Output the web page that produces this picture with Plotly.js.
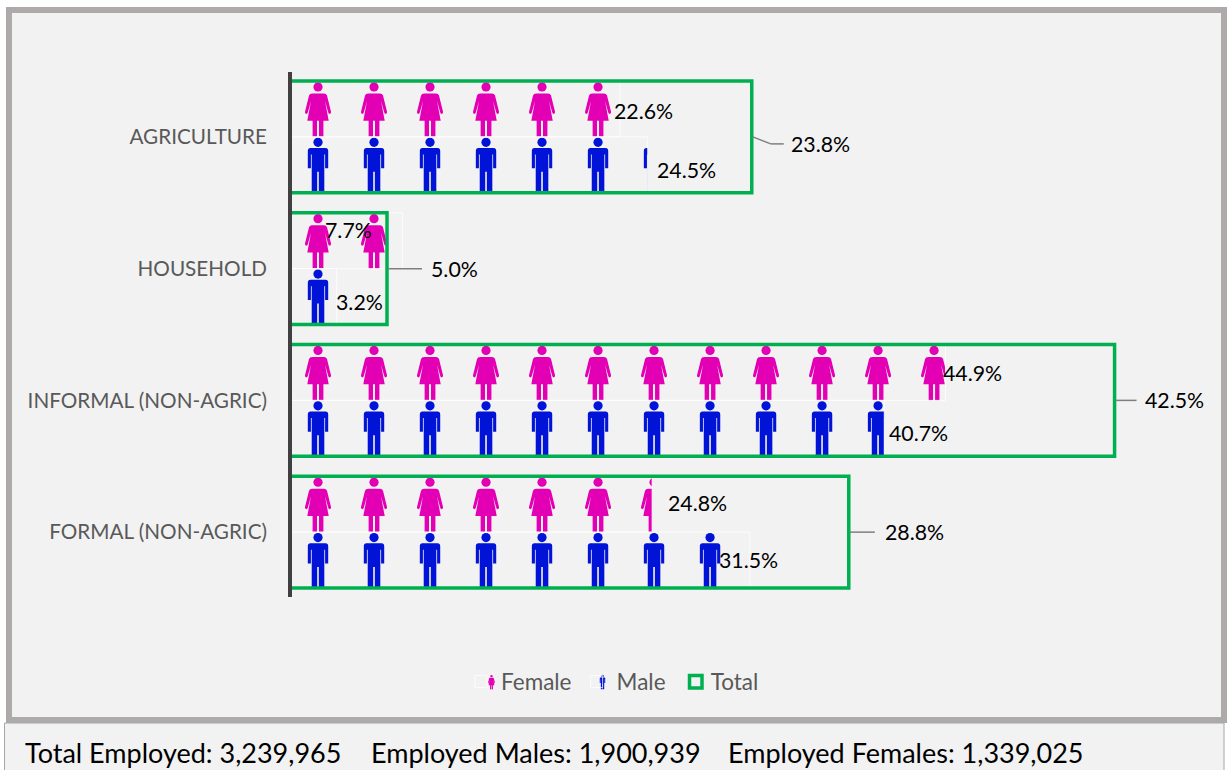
<!DOCTYPE html>
<html>
<head>
<meta charset="utf-8">
<script src="https://cdn.plot.ly/plotly-3.0.1.min.js"></script>
<style>html,body{margin:0;padding:0;background:#fff;overflow:hidden}#chart{width:1229px;height:770px}</style>
</head>
<body>
<div id="chart"></div>
<script>
const categories = ["AGRICULTURE", "HOUSEHOLD", "INFORMAL (NON-AGRIC)", "FORMAL (NON-AGRIC)"];
const femaleValues = [22.6, 7.7, 44.9, 24.8];
const maleValues = [24.5, 3.2, 40.7, 31.5];
const totalValues = [23.8, 5.0, 42.5, 28.8];
const footerTexts = ["Total Employed: 3,239,965", "Employed Males: 1,900,939", "Employed Females: 1,339,025"];

// Percentage represented by one pictogram on the gender axis
const iconUnit = 3.836;

// Layout helpers (page pixels -> paper fractions)
const W = 1229, H = 770, L = 290, R = 1166, T = 71, B = 598;
const FONT = "Lato, Carlito, Calibri, sans-serif";
const px = x => (x - L) / (R - L);
const py = y => (B - y) / (B - T);

const FEMALE = "#e300b4", MALE = "#0013d6", GREEN = "#00b050", LEADER = "#7f7f7f";

const femaleShape =
  '<circle cx="28" cy="6" r="4.6"/>' +
  '<path d="M22 12.5H34Q36.2 12.5 37 14.5L41 31Q41.2 32.6 40 33Q38.8 33.3 38.3 32L35 20L38.7 40H33.4V57H29V40H27V57H22.6V40H17.3L21 20L17.7 32Q17.2 33.3 16 33Q14.8 32.6 15 31L19 14.5Q19.8 12.5 22 12.5Z"/>';
const maleShape =
  '<circle cx="28" cy="5.4" r="4.6"/>' +
  '<path d="M20.5 11H35.5Q38.2 11 38.2 14V31.5H35.1V17.5H34.3V56H28.8V35H27.2V56H21.7V17.5H20.9V31.5H17.8V14Q17.8 11 20.5 11Z"/>';

function iconUri(shape, color, frac) {
  const svg = '<svg xmlns="http://www.w3.org/2000/svg" width="' + (56 * frac) + '" height="56" viewBox="0 0 ' + (56 * frac) +
    ' 56" preserveAspectRatio="none"><g fill="' + color + '">' + shape + '</g></svg>';
  return 'data:image/svg+xml;charset=utf-8,' + encodeURIComponent(svg);
}

// One pictogram row per bar, each icon placed on the axes from the data value
function rowImages(values, shape, color, topOffset) {
  const out = [];
  values.forEach((v, i) => {
    const n = v / iconUnit;
    for (let k = 0; k < Math.ceil(n); k++) {
      const frac = Math.min(1, n - k);
      if (frac < 0.02) continue;
      out.push({
        source: iconUri(shape, color, frac), xref: "x", yref: "y",
        x: k * iconUnit, y: i + topOffset, sizex: frac * iconUnit, sizey: 0.425,
        xanchor: "left", yanchor: "top", sizing: "stretch", layer: "below"
      });
    }
  });
  return out;
}

const images = rowImages(femaleValues, femaleShape, FEMALE, -0.425)
  .concat(rowImages(maleValues, maleShape, MALE, 0));

// Legend pictograms
[[femaleShape, FEMALE, 491.5], [maleShape, MALE, 602.5]].forEach(([s, c, cx]) => {
  images.push({
    source: iconUri(s, c, 1), xref: "paper", yref: "paper",
    x: px(cx), y: py(682), sizex: 15 / (R - L), sizey: 15 / (B - T),
    xanchor: "center", yanchor: "middle", sizing: "stretch", layer: "above"
  });
});

const barLine = { color: "rgba(255,255,255,0.75)", width: 1 };
const clear = "rgba(0,0,0,0)";
const yPos = categories.map((_, i) => i);

const traces = [
  { type: "bar", orientation: "h", name: "Female", x: femaleValues, y: yPos, xaxis: "x", yaxis: "y",
    marker: { color: clear, line: barLine }, hoverinfo: "name+x" },
  { type: "bar", orientation: "h", name: "Male", x: maleValues, y: yPos, xaxis: "x", yaxis: "y",
    marker: { color: clear, line: barLine }, hoverinfo: "name+x" },
  { type: "bar", orientation: "h", name: "Total", x: totalValues, y: yPos, xaxis: "x2", yaxis: "y", showlegend: false,
    marker: { color: clear, line: { color: GREEN, width: 3.5 } }, hoverinfo: "name+x" },
  // Legend entry for Total; its swatch is drawn at the reference position below
  { type: "bar", orientation: "h", name: "Total", x: [null], y: [null], xaxis: "x2", yaxis: "y",
    marker: { color: clear, line: { color: clear, width: 0 } }, hoverinfo: "skip" }
];

// Data-label nudges, in pixels from the end of each bar
const femaleLabelDx = [24, -54, 27, 45], femaleLabelDy = [2, -11, 1, -1];
const maleLabelDx = [39, 23, 34, -1], maleLabelDy = [5, 5, 5, 0];
const totalLabelDx = [69, 67, 60, 66], totalLabelDy = [7, 0, 0, 0];

const labelFont = { family: FONT, size: 21.3, color: "#000000" };
const annotations = [];
const pct = v => v.toFixed(1) + "%";
femaleValues.forEach((v, i) => annotations.push({ xref: "x", yref: "y", x: v, y: i - 0.2125, text: pct(v), showarrow: false,
  xanchor: "center", yanchor: "middle", xshift: femaleLabelDx[i], yshift: -femaleLabelDy[i], font: labelFont }));
maleValues.forEach((v, i) => annotations.push({ xref: "x", yref: "y", x: v, y: i + 0.2125, text: pct(v), showarrow: false,
  xanchor: "center", yanchor: "middle", xshift: maleLabelDx[i], yshift: -maleLabelDy[i], font: labelFont }));
totalValues.forEach((v, i) => annotations.push({ xref: "x2", yref: "y", x: v, y: i, text: pct(v), showarrow: false,
  xanchor: "center", yanchor: "middle", xshift: totalLabelDx[i], yshift: -totalLabelDy[i], font: labelFont }));

[23, 369, 726].forEach((x, i) => annotations.push({ xref: "paper", yref: "paper", x: px(x), y: py(752), text: footerTexts[i],
  showarrow: false, xanchor: "left", yanchor: "middle", font: { family: FONT, size: 27, color: "#000000" } }));

// Leader lines from each Total bar to its label
const leaderEnd = [32, 35, 22, 26];
const leaderLine = { color: LEADER, width: 1.5 };
const shapes = [
  { type: "rect", xref: "paper", yref: "paper", x0: px(9), x1: px(1224), y0: py(10), y1: py(720), layer: "below",
    fillcolor: "#f2f2f2", line: { color: "#aeaaaa", width: 6 } },
  { type: "rect", xref: "paper", yref: "paper", x0: px(4.5), x1: px(1224), y0: py(723), y1: py(790), layer: "below",
    fillcolor: "#f2f2f2", line: { color: "#a6a6a6", width: 1 } },
  // Category axis line
  { type: "line", xref: "paper", yref: "paper", x0: px(290), x1: px(290), y0: py(72), y1: py(597), layer: "above",
    line: { color: "#404040", width: 4 } },
  // Total legend swatch
  { type: "rect", xref: "paper", yref: "paper", x0: px(689.5), x1: px(702), y0: py(675.5), y1: py(688), layer: "above",
    fillcolor: clear, line: { color: GREEN, width: 3.5 } }
];
totalValues.forEach((v, i) => {
  const bend = totalLabelDy[i];
  if (bend) {
    shapes.push({ type: "line", xref: "x2", yref: "y", xsizemode: "pixel", ysizemode: "pixel", xanchor: v, yanchor: i,
      x0: 1, y0: 0, x1: 19, y1: -bend, line: leaderLine });
    shapes.push({ type: "line", xref: "x2", yref: "y", xsizemode: "pixel", ysizemode: "pixel", xanchor: v, yanchor: i,
      x0: 19, y0: -bend, x1: leaderEnd[i], y1: -bend, line: leaderLine });
  } else {
    shapes.push({ type: "line", xref: "x2", yref: "y", xsizemode: "pixel", ysizemode: "pixel", xanchor: v, yanchor: i,
      x0: 1, y0: 0, x1: leaderEnd[i], y1: 0, line: leaderLine });
  }
});

const layout = {
  width: W, height: H, autosize: false,
  margin: { l: L, r: W - R, t: T, b: H - B, pad: 0 },
  paper_bgcolor: "#ffffff", plot_bgcolor: "rgba(0,0,0,0)",
  font: { family: FONT, color: "#595959", size: 20 },
  barmode: "group", bargap: 0.15, bargroupgap: 0,
  xaxis: { range: [0, 60], visible: false, fixedrange: true },
  xaxis2: { range: [0, 45.15], overlaying: "x", visible: false, fixedrange: true, anchor: "y" },
  yaxis: { range: [3.5, -0.5], tickmode: "array", tickvals: yPos, ticktext: categories, showgrid: false, zeroline: false,
    showline: false, ticks: "", ticklabelstandoff: 22, fixedrange: true,
    tickfont: { family: FONT, size: 20.7, color: "#595959" } },
  showlegend: true,
  legend: { orientation: "h", x: px(461), xanchor: "left", y: py(682), yanchor: "middle", bgcolor: "rgba(0,0,0,0)",
    traceorder: "normal", font: { family: FONT, size: 22.5, color: "#595959" } },
  images, annotations, shapes
};

Plotly.newPlot("chart", traces, layout, { displayModeBar: false, responsive: false });
</script>
</body>
</html>
